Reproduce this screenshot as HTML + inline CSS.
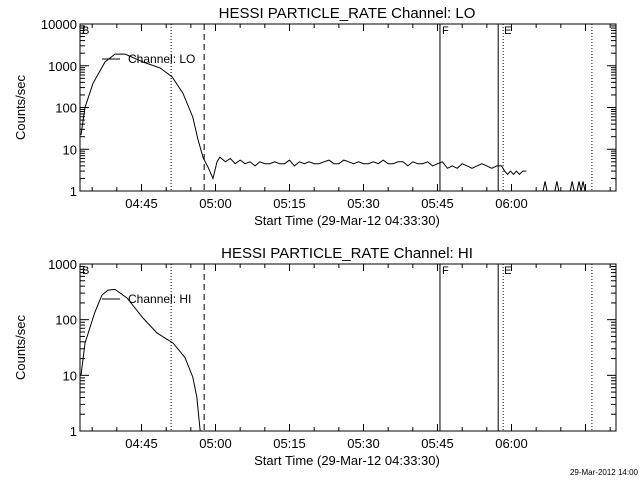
<!DOCTYPE html>
<html><head><meta charset="utf-8"><style>
body{margin:0;background:#fff}
svg{display:block}
text{font-family:"Liberation Sans",sans-serif;fill:#000}
</style></head><body>
<svg id="c" width="640" height="480" viewBox="0 0 640 480"></svg>
<script>
const loTimes=[2.74,3.55,5.17,7.6,9.63,11.66,15.3,18.75,21.2,23.4,25.4,26.45,27.5,28.5,29.5,30.3,30.9,32,33,34,35,36,37,38,39,40,41,42,43,44,45,46,47,48,49,50,51,52,53,54,55,56,57,58,59,60,61,62,63,64,65,66,67,68,69,70,71,72,73,74,75,76,77,78,79,80,81,82,83,84,85,86,87,88,88.6,89.2,89.8,90.4,91,91.6,92.3,93];
const loValues=[22,100,380,1230,1900,1900,1230,890,540,220,59,17,6.2,3.7,2,5,6.5,5,6,4.5,5.5,4.5,5,4,5,4.5,4.5,5,4.5,4.5,5.5,4,5,4.5,5,4.5,4.5,5,5.5,4.5,4.5,5.5,5,4.5,5,4.5,4.5,5,4.5,5.5,4.5,4.5,5,5,4,5,4.5,4.5,5,4,4.5,5,3.5,4,3.5,4.5,4,3.5,4,4.5,4,3.5,4,4,3,2.5,3,2.5,3,2.5,3,3,0.5];
const loSpikes=[96.8,99.2,102.3,103.7,104.5];
const hiTimes=[2.74,3.55,5.57,7.0,8.2,9.63,12.06,15.3,18.1,21.4,23.8,25.4,26.2,26.9];
const hiValues=[10,38,138,277,340,350,245,107,58,38,21,9.3,4.1,1];
const tickLabels=["04:45","05:00","05:15","05:30","05:45","06:00"];
const tickMinutes=[15,30,45,60,75,90];
const markers=[{t:21.0,s:"1,2"},{t:27.7,s:"6,4"},{t:75.5,s:""},{t:87.3,s:""},{t:88.3,s:"1,2"},{t:106.3,s:"1,2"}];
const svg=document.getElementById('c');
const NS="http://www.w3.org/2000/svg";
function el(tag,at,txt){const e=document.createElementNS(NS,tag);for(const k in at)e.setAttribute(k,at[k]);if(txt!==undefined)e.textContent=txt;svg.appendChild(e);return e;}
const X0=80,X1=616;
function xs(t){return 141.5+(t-15)*74/15;}
function panel(top,bot,decades,title,chan,times,vals,spikes,key){
  const ys=v=>bot-Math.log10(v)*(bot-top)/decades;
  let t=el('text',{x:347,y:top-6,'font-size':15,'text-anchor':'middle'},title);
  
  const fr=el('rect',{x:X0,y:top,width:X1-X0,height:bot-top,fill:'none',stroke:'#000'});
  
  // x ticks
  for(let m=5;m<=110;m+=5){const x=xs(m);if(x<X0||x>X1)continue;const len=(m%15==0)?7:4;
    el('line',{x1:x,y1:bot,x2:x,y2:bot-len,stroke:'#000'});el('line',{x1:x,y1:top,x2:x,y2:top+len,stroke:'#000'});}
  tickMinutes.forEach((m,i)=>{const l=el('text',{x:xs(m),y:bot+17,'font-size':13,'text-anchor':'middle'},tickLabels[i]);
    });
  const xt=el('text',{x:347,y:bot+34,'font-size':13,'text-anchor':'middle'},'Start Time (29-Mar-12 04:33:30)');
  
  // y ticks
  for(let d=0;d<=decades;d++){const y=ys(Math.pow(10,d));
    el('line',{x1:X0,y1:y,x2:X0+9,y2:y,stroke:'#000'});el('line',{x1:X1,y1:y,x2:X1-9,y2:y,stroke:'#000'});
    const l=el('text',{x:X0-3,y:y+5,'font-size':13,'text-anchor':'end'},String(Math.pow(10,d)));
    
    if(d<decades)for(let k=2;k<=9;k++){const yy=ys(k*Math.pow(10,d));
      el('line',{x1:X0,y1:yy,x2:X0+5,y2:yy,stroke:'#000'});el('line',{x1:X1,y1:yy,x2:X1-5,y2:yy,stroke:'#000'});}}
  const yt=el('text',{x:0,y:0,'font-size':13,'text-anchor':'middle',transform:`translate(25,${(top+bot)/2}) rotate(-90)`},'Counts/sec');
  
  // markers
  markers.forEach(mk=>{const x=xs(mk.t);const a={x1:x,y1:top,x2:x,y2:bot,stroke:'#000'};if(mk.s)a['stroke-dasharray']=mk.s;
    const l=el('line',a);});
  [['B',X0+2],['F',xs(75.5)+2],['E',xs(88.3)+1]].forEach(([s,x])=>{const l=el('text',{x:x,y:top+10,'font-size':11},s);
    });
  // series
  const cp='clip'+key;const defs=el('clipPath',{id:cp});const r=document.createElementNS(NS,'rect');
  r.setAttribute('x',X0);r.setAttribute('y',top);r.setAttribute('width',X1-X0);r.setAttribute('height',bot-top);defs.appendChild(r);
  let d='';times.forEach((tm,i)=>{d+=(i?'L':'M')+xs(tm).toFixed(1)+','+ys(vals[i]).toFixed(1);});
  const p=el('path',{d:d,fill:'none',stroke:'#000','clip-path':`url(#${cp})`});
  
  spikes.forEach(tm=>{const x=xs(tm);const s=el('path',{d:`M${x-2},${bot}L${x},${ys(1.7)}L${x+2},${bot}`,fill:'none',stroke:'#000'});
    });
  const ly=top+35;
  const ll=el('line',{x1:102,y1:ly,x2:120,y2:ly,stroke:'#000'});
  const lt=el('text',{x:128,y:ly+4,'font-size':12},'Channel: '+chan);
}
panel(24,191,4,'HESSI PARTICLE_RATE Channel: LO','LO',loTimes,loValues,loSpikes,'lo');
panel(264,431,3,'HESSI PARTICLE_RATE Channel: HI','HI',hiTimes,hiValues,[],'hi');
const f=el('text',{x:638,y:475,'font-size':8,'text-anchor':'end'},'29-Mar-2012 14:00');

</script>
</body></html>
